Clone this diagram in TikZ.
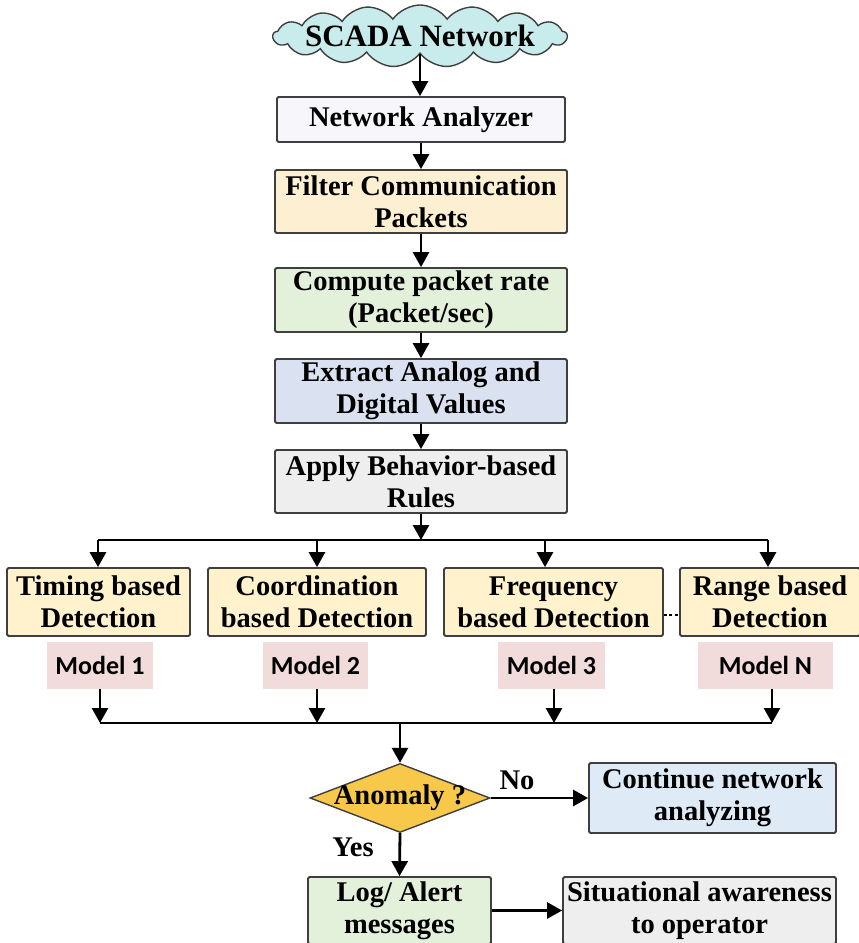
\documentclass[tikz,border=0pt]{standalone}
\usepackage{fontspec}
\setmainfont{Liberation Serif}
\newfontfamily\modelfont{Carlito}
\usetikzlibrary{shapes.symbols,shapes.geometric,arrows.meta,calc}

\definecolor{edge}{HTML}{3F3F3F}
\definecolor{cloudcyan}{HTML}{C8ECEC}
\definecolor{nawhite}{HTML}{F6F6FB}
\definecolor{paleorange}{HTML}{FCEFD2}
\definecolor{palegreen}{HTML}{E3F0DA}
\definecolor{paleblue}{HTML}{DAE2F2}
\definecolor{palegray}{HTML}{EEEEEE}
\definecolor{paleyellow}{HTML}{FFF2CC}
\definecolor{modelpink}{HTML}{F2DCDB}
\definecolor{gold}{HTML}{F8C84B}
\definecolor{skyblue}{HTML}{DEEAF6}

\begin{document}
\begin{tikzpicture}[x=1pt,y=-1pt,
  txt/.style={font=\bfseries\fontsize{28.5}{32}\selectfont},
  box/.style={txt, draw=edge, line width=1.8pt, rounded corners=1.5pt,
    align=center, inner sep=0pt},
  model/.style={fill=modelpink, inner sep=0pt,
    font=\modelfont\bfseries\fontsize{26}{30}\selectfont},
  link/.style={line width=2.8pt},
  flow/.style={link, -{Triangle[length=15pt,width=16pt]}},
]
\useasboundingbox (0,0) rectangle (859,943);

% main processing chain
\node[cloud, draw=edge, line width=1.4pt, fill=cloudcyan, cloud puffs=17,
  cloud puff arc=110, cloud ignores aspect, minimum width=294pt,
  minimum height=62pt, inner sep=0pt,
  label={[font=\bfseries\fontsize{31}{34}\selectfont]center:SCADA Network}]
  (cloud) at (420,36) {};
\node[box, fill=nawhite, minimum width=288pt, minimum height=45pt]
  (na) at (421,119.5) {Network Analyzer};
\node[box, fill=paleorange, minimum width=292pt, minimum height=63pt]
  (filter) at (421,201.5) {Filter Communication\\Packets};
\node[box, fill=palegreen, minimum width=292pt, minimum height=64pt]
  (rate) at (421,300) {Compute packet rate\\(Packet/sec)};
\node[box, fill=paleblue, minimum width=292pt, minimum height=64pt]
  (extract) at (421,391) {Extract Analog and\\Digital Values};
\node[box, fill=palegray, minimum width=292pt, minimum height=63pt]
  (rules) at (421,481.5) {Apply Behavior-based\\Rules};

\draw[flow] (cloud.south) -- (cloud.south |- na.north);
\draw[flow] (na) -- (filter);
\draw[flow] (filter) -- (rate);
\draw[flow] (rate) -- (extract);
\draw[flow] (extract) -- (rules);

% detection models
\node[box, fill=paleyellow, minimum width=183pt, minimum height=68pt]
  (timing) at (98.5,602) {Timing based\\Detection};
\node[box, fill=paleyellow, minimum width=218pt, minimum height=68pt]
  (coord) at (317,602) {Coordination\\based Detection};
\node[box, fill=paleyellow, minimum width=219pt, minimum height=68pt]
  (freq) at (553.5,602) {Frequency\\based Detection};
\node[box, fill=paleyellow, minimum width=180pt, minimum height=68pt]
  (range) at (770,602) {Range based\\Detection};
\draw[line width=1.2pt, dash pattern=on 3pt off 2.5pt]
  ($(freq.east)+(0,13)$) -- ($(range.west)+(0,13)$);

\node[model, minimum width=106pt, minimum height=47pt] (m1) at (100,665.5) {Model 1};
\node[model, minimum width=105pt, minimum height=47pt] (m2) at (315.5,665.5) {Model 2};
\node[model, minimum width=107pt, minimum height=47pt] (m3) at (551.5,665.5) {Model 3};
\node[model, minimum width=135pt, minimum height=47pt] (mn) at (765.5,665.5) {Model N};

% fan-out bus
\coordinate (split) at (421,540);
\coordinate (s1) at (98,540);
\coordinate (s2) at (317,540);
\coordinate (s3) at (545,540);
\coordinate (s4) at (768,540);
\draw[flow] (rules.south) -- (split);
\draw[link] (s1) -- (s4);
\draw[flow] (s1) -- (s1 |- timing.north);
\draw[flow] (s2) -- (s2 |- coord.north);
\draw[flow] (s3) -- (s3 |- freq.north);
\draw[flow] (s4) -- (s4 |- range.north);

% fan-in bus
\coordinate (j1) at (100,723);
\coordinate (j2) at (317,723);
\coordinate (j3) at (554,723);
\coordinate (j4) at (772,723);
\coordinate (join) at (400,723);
\draw[flow] (m1.south -| j1) -- (j1);
\draw[flow] (m2.south -| j2) -- (j2);
\draw[flow] (m3.south -| j3) -- (j3);
\draw[flow] (mn.south -| j4) -- (j4);
\draw[link] (j1) -- (j4);

% decision and outcomes
\node[diamond, draw=edge, line width=1.4pt, fill=gold, minimum width=180pt,
  minimum height=69pt, inner sep=0pt,
  label={[txt]center:Anomaly ?}] (dec) at (400,798) {};
\node[box, fill=skyblue, minimum width=247pt, minimum height=70pt]
  (cont) at (712.5,798) {Continue network\\analyzing};
\node[box, fill=palegreen, minimum width=183pt, minimum height=67pt]
  (log) at (399.5,910.5) {Log/ Alert\\messages};
\node[box, fill=palegray, minimum width=273pt, minimum height=67pt]
  (sit) at (699.5,910.5) {Situational awareness\\to operator};

\draw[flow] (join) -- (dec.north);
\draw[flow] (dec.east) -- (cont.west);
\draw[flow] (dec.south) -- (log.north);
\draw[flow] (log.east) -- (log.east -| sit.west);

\node[txt] (no) at (517,780) {No};
\node[txt] (yes) at (353,847) {Yes};
\end{tikzpicture}
\end{document}
